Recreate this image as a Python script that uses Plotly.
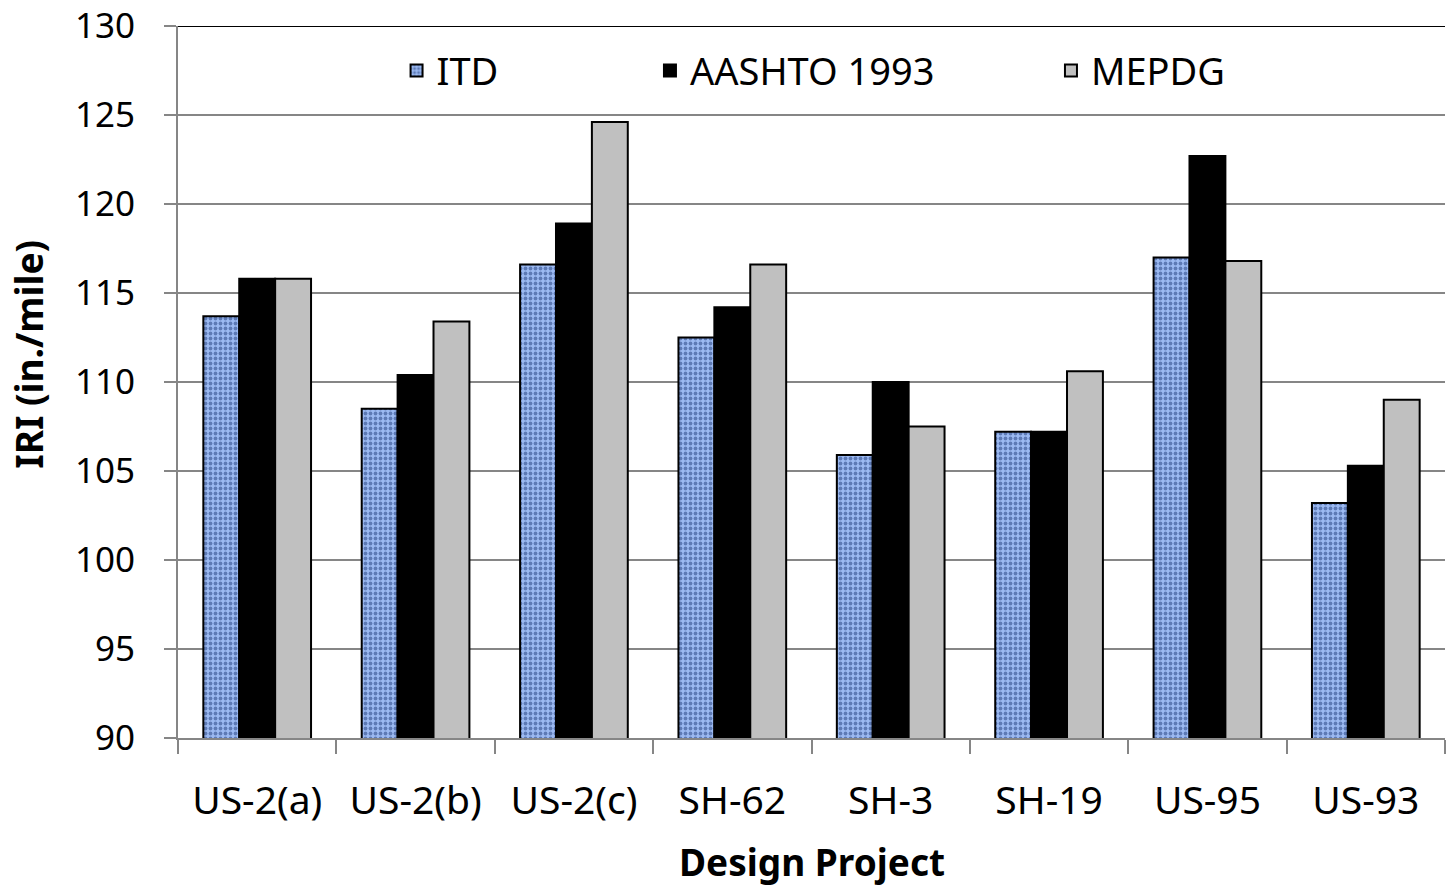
import plotly.graph_objects as go

categories = ["US-2(a)", "US-2(b)", "US-2(c)", "SH-62", "SH-3", "SH-19", "US-95", "US-93"]
itd = [113.7, 108.5, 116.6, 112.5, 105.9, 107.2, 117.0, 103.2]
aashto = [115.8, 110.4, 118.9, 114.2, 110.0, 107.2, 122.7, 105.3]
mepdg = [115.8, 113.4, 124.6, 116.6, 107.5, 110.6, 116.8, 109.0]
y_ticks = [90, 95, 100, 105, 110, 115, 120, 125, 130]

FONT = "Noto Sans"
fig = go.Figure()
fig.add_bar(x=categories, y=itd, name="ITD", legend="legend", showlegend=True,
            marker=dict(color="#86a6e4", line=dict(color="black", width=2),
                        pattern=dict(shape=".", fgcolor="#1e3a78", bgcolor="#9cbaf2",
                                     size=5, solidity=0.45)))
fig.add_bar(x=categories, y=aashto, name="AASHTO 1993", legend="legend2", showlegend=True,
            marker=dict(color="black", line=dict(color="black", width=2)))
fig.add_bar(x=categories, y=mepdg, name="MEPDG", legend="legend3", showlegend=True,
            marker=dict(color="#c0c0c0", line=dict(color="black", width=2)))

leg_common = dict(orientation="h", yanchor="middle", y=0.937, xanchor="left", visible=True,
                  bgcolor="rgba(0,0,0,0)", font=dict(family=FONT, size=38, color="black"))
fig.update_layout(
    width=1448, height=886,
    margin=dict(l=178, r=3, t=26, b=148, autoexpand=False),
    paper_bgcolor="white", plot_bgcolor="white",
    showlegend=True,
    barmode="group", bargap=0.32, bargroupgap=0,
    font=dict(family=FONT, color="black"),
    legend=dict(x=0.1725, **leg_common),
    legend2=dict(x=0.3725, **leg_common),
    legend3=dict(x=0.689, **leg_common),
    xaxis=dict(showline=True, linecolor="#868686", linewidth=2, automargin=False,
               ticks="outside", tickson="boundaries", ticklen=14, tickwidth=2, tickcolor="#868686",
               tickfont=dict(family=FONT, size=39, color="black"), ticklabelstandoff=27,
               ticklabeloverflow="allow"),
    yaxis=dict(range=[90, 130], tickvals=y_ticks, showgrid=True, gridcolor="#868686", gridwidth=2,
               showline=True, linecolor="#868686", linewidth=2, zeroline=False, automargin=False,
               ticks="outside", ticklen=12, tickwidth=2, tickcolor="#868686",
               tickfont=dict(family=FONT, size=35, color="black"), ticklabelstandoff=22,
               ticklabeloverflow="allow"),
    annotations=[
        dict(text="<b>Design Project</b>", xref="paper", yref="paper", x=0.5, y=-0.174,
             xanchor="center", yanchor="middle", showarrow=False,
             font=dict(family=FONT, size=37, color="black")),
        dict(text="<b>IRI (in./mile)</b>", xref="paper", yref="paper", x=-0.118, y=0.539,
             xanchor="center", yanchor="middle", textangle=-90, showarrow=False,
             font=dict(family=FONT, size=37, color="black")),
    ],
)
fig.add_shape(type="line", xref="paper", yref="y", x0=0, x1=1, y0=130, y1=130,
              line=dict(color="black", width=2))
fig.write_html("out.html", config={"displayModeBar": False},
               post_script="document.body.style.margin='0';document.body.style.overflow='hidden';")
